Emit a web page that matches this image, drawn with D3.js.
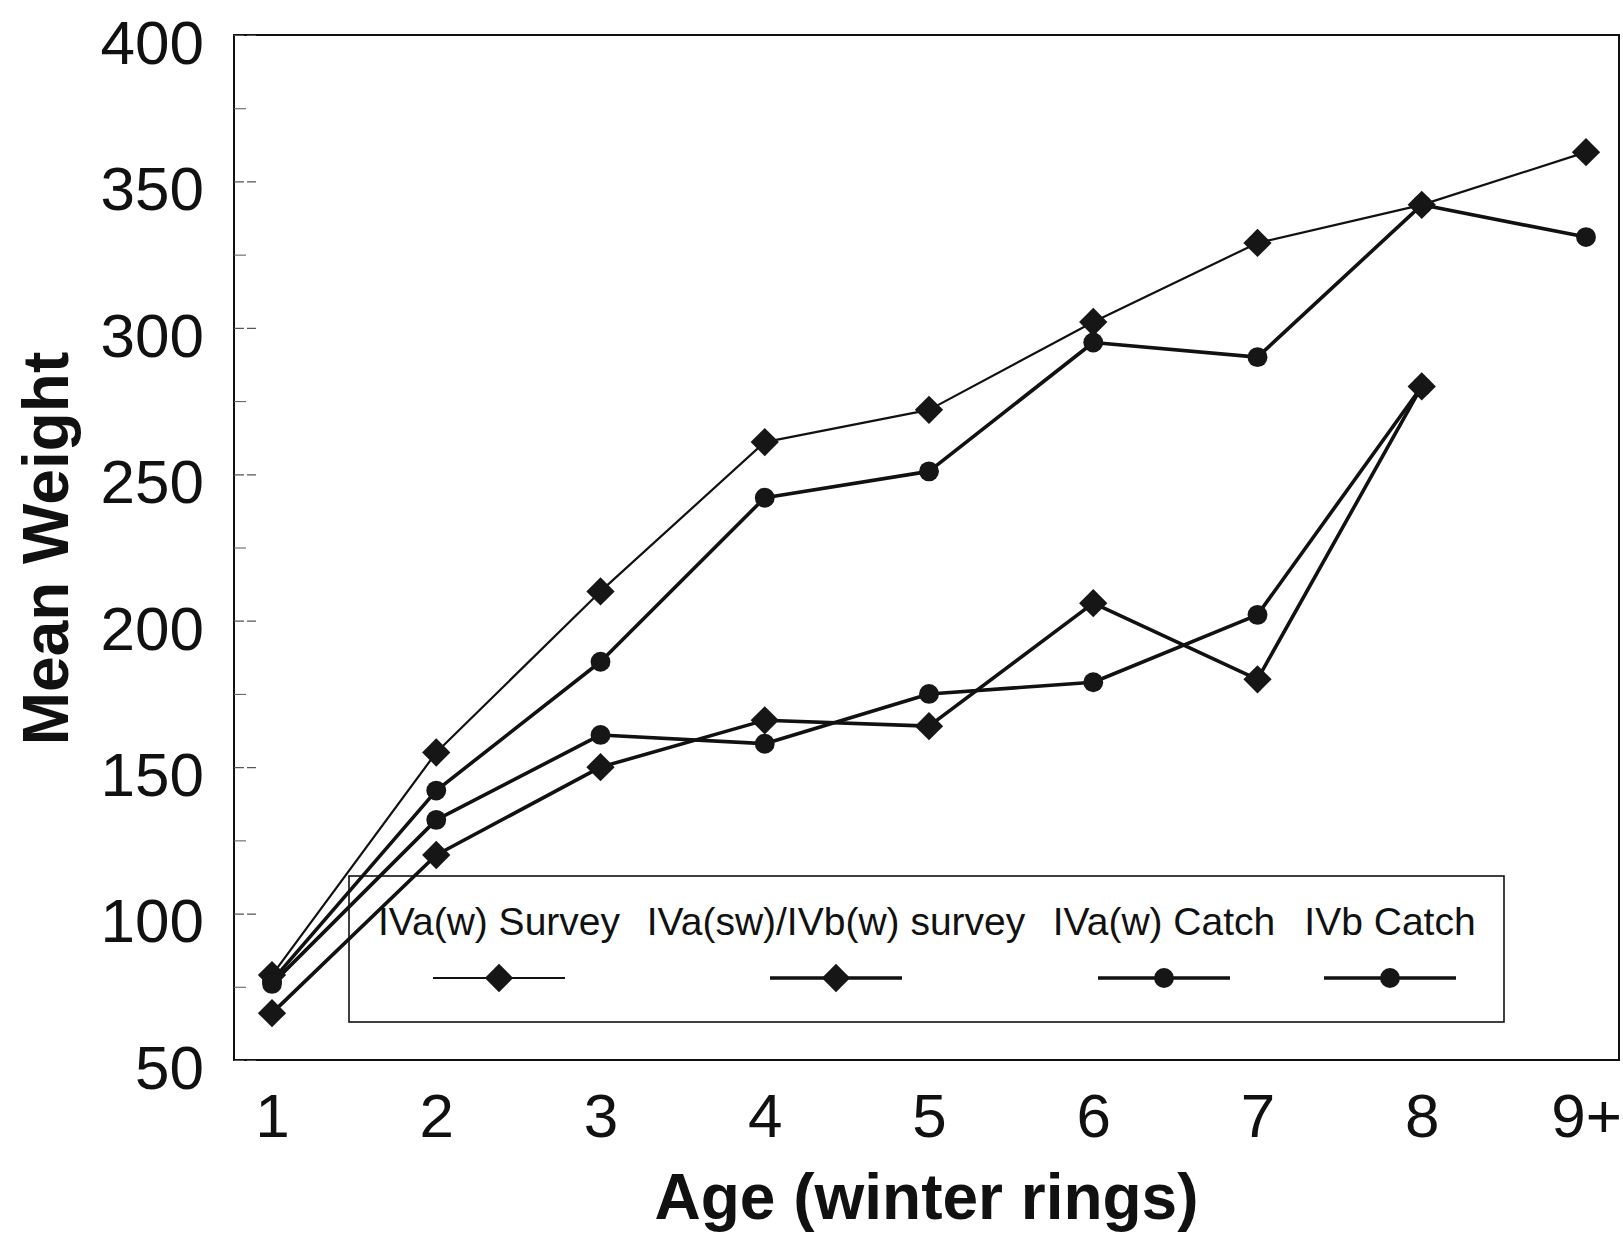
<!DOCTYPE html>
<html>
<head>
<meta charset="utf-8">
<script src="https://cdn.jsdelivr.net/npm/d3@7"></script>
<style>
  html, body { margin: 0; padding: 0; background: #fff; }
  svg { display: block; }
  text { font-family: Arial, "Liberation Sans", Helvetica, sans-serif; fill: #111; }
</style>
</head>
<body>
<svg id="chart" width="1623" height="1235"></svg>
<script>
// ---- data ----
const ages = ["1", "2", "3", "4", "5", "6", "7", "8", "9+"];
const ivaWSurvey    = [79, 155, 210, 261, 272, 302, 329, 342, 360];
const ivaSwIvbWSurvey = [66, 120, 150, 166, 164, 206, 180, 280, null];
const ivaWCatch     = [77, 142, 186, 242, 251, 295, 290, 342, 331];
const ivbCatch      = [76, 132, 161, 158, 175, 179, 202, 280, null];
const seriesNames = ["IVa(w) Survey", "IVa(sw)/IVb(w) survey", "IVa(w) Catch", "IVb Catch"];
const yMajorTicks = [50, 100, 150, 200, 250, 300, 350, 400];
const yMinorTicks = [75, 125, 175, 225, 275, 325, 375];
const xTitle = "Age (winter rings)";
const yTitle = "Mean Weight";

// ---- layout ----
const svg = d3.select("#chart");
const frame = { left: 234, right: 1619, top: 35, bottom: 1060 };
const x = d3.scalePoint().domain(ages).range([272, 1586]);
const y = d3.scaleLinear().domain([50, 400]).range([1060, 35]);

const series = [
  { name: seriesNames[0], values: ivaWSurvey, marker: "diamond", width: 2.2 },
  { name: seriesNames[1], values: ivaSwIvbWSurvey, marker: "diamond", width: 3.6 },
  { name: seriesNames[2], values: ivaWCatch, marker: "circle", width: 3.6 },
  { name: seriesNames[3], values: ivbCatch, marker: "circle", width: 3.6 }
];

const diamond = d3.symbol().type(d3.symbolSquare).size(400);
const circle = d3.symbol().type(d3.symbolCircle).size(310);
function drawMarker(g, type, cx, cy) {
  if (type === "diamond") {
    g.append("path").attr("d", diamond())
      .attr("transform", `translate(${cx},${cy}) rotate(45)`)
      .attr("fill", "#161616");
  } else {
    g.append("path").attr("d", circle())
      .attr("transform", `translate(${cx},${cy})`)
      .attr("fill", "#161616");
  }
}

// ---- frame ----
svg.append("rect")
  .attr("x", frame.left).attr("y", frame.top)
  .attr("width", frame.right - frame.left).attr("height", frame.bottom - frame.top)
  .attr("fill", "none").attr("stroke", "#111").attr("stroke-width", 2);

// ---- y axis ----
const yAxis = svg.append("g").attr("transform", `translate(${frame.left},0)`)
  .call(d3.axisLeft(y).tickValues(yMajorTicks).tickSize(-22).tickPadding(30));
yAxis.select(".domain").remove();
yAxis.selectAll(".tick line").attr("stroke", "#555").attr("stroke-width", 1.2).attr("stroke-dasharray", "10,3");
yAxis.selectAll(".tick text")
  .attr("font-size", 62).attr("dy", "0.36em").attr("y", 6)
  .style("font-family", "Arial, 'Liberation Sans', sans-serif").attr("fill", "#111");

const yMinor = svg.append("g").attr("transform", `translate(${frame.left},0)`)
  .call(d3.axisLeft(y).tickValues(yMinorTicks).tickSize(-12).tickFormat(""));
yMinor.select(".domain").remove();
yMinor.selectAll(".tick line").attr("stroke", "#666").attr("stroke-width", 1.1);

// ---- x axis ----
const xAxis = svg.append("g").attr("transform", `translate(0,${frame.bottom})`)
  .call(d3.axisBottom(x).tickSize(0).tickPadding(33));
xAxis.select(".domain").remove();
xAxis.selectAll(".tick text")
  .attr("font-size", 62)
  .style("font-family", "Arial, 'Liberation Sans', sans-serif").attr("fill", "#111");

// ---- titles ----
svg.append("text")
  .attr("x", (frame.left + frame.right) / 2).attr("y", 1219)
  .attr("text-anchor", "middle").attr("font-size", 64).attr("font-weight", "bold")
  .text(xTitle);
svg.append("text")
  .attr("transform", `translate(68,${(frame.top + frame.bottom) / 2 + 1}) rotate(-90)`)
  .attr("text-anchor", "middle").attr("font-size", 64).attr("font-weight", "bold")
  .text(yTitle);

// ---- legend (drawn beneath the lines) ----
const legendBox = { x: 349, y: 876, w: 1155, h: 146 };
const legendCenters = [499, 836, 1164, 1390];
const lg = svg.append("g");
lg.append("rect")
  .attr("x", legendBox.x).attr("y", legendBox.y)
  .attr("width", legendBox.w).attr("height", legendBox.h)
  .attr("fill", "none").attr("stroke", "#111").attr("stroke-width", 1.6);
series.forEach((s, i) => {
  const cx = legendCenters[i];
  lg.append("text").attr("x", cx).attr("y", 935)
    .attr("text-anchor", "middle").attr("font-size", 39)
    .text(s.name);
  lg.append("line").attr("x1", cx - 66).attr("x2", cx + 66)
    .attr("y1", 978).attr("y2", 978)
    .attr("stroke", "#111").attr("stroke-width", s.width);
  drawMarker(lg, s.marker, cx, 978);
});

// ---- lines & markers ----
const line = d3.line()
  .defined(d => d.v != null)
  .x(d => x(d.age)).y(d => y(d.v));
series.forEach(s => {
  const pts = ages.map((a, i) => ({ age: a, v: s.values[i] }));
  svg.append("path").datum(pts)
    .attr("d", line)
    .attr("fill", "none").attr("stroke", "#111")
    .attr("stroke-width", s.width).attr("stroke-linejoin", "round");
});
series.forEach(s => {
  const g = svg.append("g");
  ages.forEach((a, i) => {
    if (s.values[i] != null) drawMarker(g, s.marker, x(a), y(s.values[i]));
  });
});
</script>
</body>
</html>
